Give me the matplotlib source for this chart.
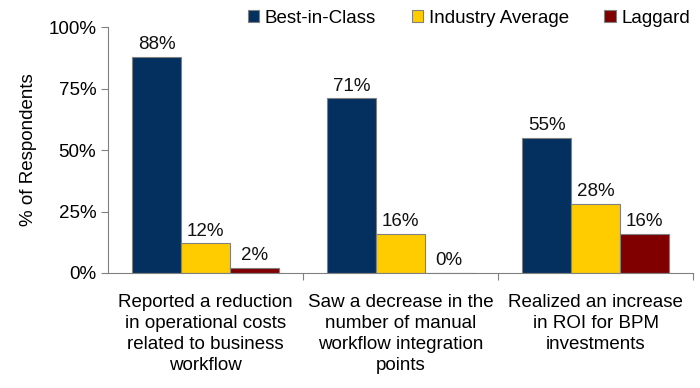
import numpy as np
import matplotlib
matplotlib.use("Agg")
import matplotlib.pyplot as plt

plt.rcParams['font.family'] = ['Liberation Sans', 'DejaVu Sans']

categories = ["Reported a reduction\nin operational costs\nrelated to business\nworkflow",
              "Saw a decrease in the\nnumber of manual\nworkflow integration\npoints",
              "Realized an increase\nin ROI for BPM\ninvestments"]
series_names = ["Best-in-Class", "Industry Average", "Laggard"]
best_in_class = [88, 71, 55]
industry_average = [12, 16, 28]
laggard = [2, 0, 16]
colors = ["#04305F", "#FFCC00", "#800000"]

fs = 13.5

fig = plt.figure(figsize=(7, 3.88), dpi=100)
ax = fig.add_axes([0.1543, 0.2964, 0.8357, 0.6336])

x = np.arange(len(categories))
width = 0.25
all_series = [best_in_class, industry_average, laggard]
for i, (vals, name, col) in enumerate(zip(all_series, series_names, colors)):
    pos = x + (i - 1) * width
    bars = ax.bar(pos, vals, width, color=col, edgecolor="#808080", linewidth=0.8, label=name)
    for b, v in zip(bars, vals):
        ax.text(b.get_x() + b.get_width() / 2, v + 1.5, f"{v}%", ha="center", va="bottom",
                fontsize=fs, color="#111111")

ax.set_xlim(-0.5, len(categories) - 0.5)
ax.set_ylim(0, 100)
ax.set_yticks([0, 25, 50, 75, 100])
ax.set_yticklabels([f"{t}%" for t in [0, 25, 50, 75, 100]], fontsize=fs)
ax.set_ylabel("% of Respondents", fontsize=fs, labelpad=8)

# category labels between boundary ticks
ax.set_xticks([0.5, 1.5, 2.5])
ax.set_xticklabels([])
ax.set_xticks(x, minor=True)
ax.set_xticklabels(categories, minor=True, fontsize=fs, linespacing=1.32)
ax.tick_params(axis="x", which="minor", length=0, pad=15)
ax.tick_params(axis="x", which="major", length=5, color="#808080")
ax.tick_params(axis="y", length=5, color="#808080")

for s in ["top", "right"]:
    ax.spines[s].set_visible(False)
for s in ["left", "bottom"]:
    ax.spines[s].set_color("#808080")

ax.legend(loc="upper right", bbox_to_anchor=(0.995, 1.07), ncol=3, frameon=False,
          fontsize=fs, handlelength=0.6, handleheight=0.6, handletextpad=0.3,
          columnspacing=1.9, borderaxespad=0, borderpad=0)

fig.savefig("out.png", dpi=100)
